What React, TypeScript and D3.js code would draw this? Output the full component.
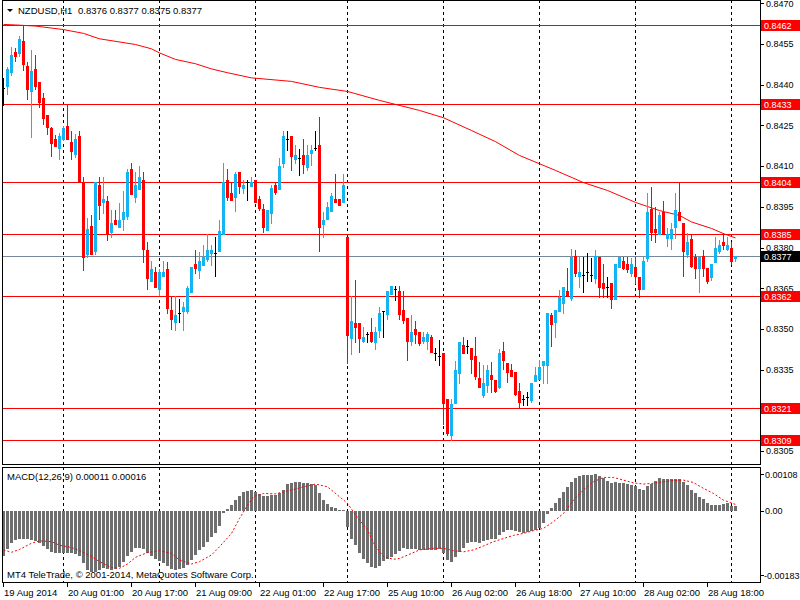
import React from 'react';
import * as d3 from 'd3';

const opens = [0.84388,0.84396,0.84448,0.84522,0.84516,0.84562,0.84470,0.84378,0.84458,0.84410,
0.84351,0.84288,0.84242,0.84200,0.84168,0.84199,0.84248,0.84189,0.84145,0.84211,
0.84040,0.83776,0.83879,0.83788,0.84030,0.83968,0.83971,0.83857,0.83901,0.83877,
0.83905,0.83917,0.84089,0.83987,0.84016,0.84049,0.83791,0.83678,0.83709,0.83647,
0.83696,0.83721,0.83570,0.83526,0.83558,0.83566,0.83566,0.83637,0.83739,0.83717,
0.83736,0.83759,0.83779,0.83779,0.83788,0.83849,0.84049,0.84000,0.83987,0.84078,
0.84018,0.84040,0.84028,0.84049,0.83978,0.83941,0.83865,0.83928,0.84030,0.84016,
0.84110,0.84199,0.84211,0.84126,0.84129,0.84141,0.84096,0.84147,0.84168,0.84178,
0.83887,0.83905,0.83936,0.83979,0.83979,0.83969,0.83838,0.83465,0.83521,0.83521,
0.83457,0.83481,0.83488,0.83451,0.83496,0.83567,0.83555,0.83628,0.83647,0.83640,
0.83570,0.83539,0.83457,0.83500,0.83490,0.83457,0.83457,0.83469,0.83410,0.83400,
0.83410,0.83241,0.83109,0.83228,0.83339,0.83441,0.83438,0.83429,0.83400,0.83318,
0.83256,0.83293,0.83330,0.83312,0.83287,0.83419,0.83376,0.83349,0.83342,0.83271,
0.83243,0.83248,0.83238,0.83309,0.83315,0.83367,0.83367,0.83551,0.83527,0.83566,
0.83597,0.83641,0.83615,0.83769,0.83695,0.83699,0.83711,0.83699,0.83689,0.83764,
0.83668,0.83656,0.83668,0.83610,0.83727,0.83751,0.83739,0.83707,0.83727,0.83692,
0.83647,0.83760,0.83941,0.83868,0.83849,0.83932,0.83836,0.83836,0.83877,0.83932,
0.83889,0.83776,0.83830,0.83764,0.83726,0.83769,0.83723,0.83690,0.83748,0.83787,
0.83821,0.83793,0.83797,0.8376];

const highs = [0.84425,0.84466,0.84538,0.84534,0.84580,0.84620,0.84483,0.84528,0.84510,0.84410,
0.84368,0.84288,0.84245,0.84215,0.84221,0.84248,0.84329,0.84229,0.84217,0.84229,
0.84061,0.83910,0.83920,0.84040,0.84061,0.84061,0.83990,0.83938,0.83938,0.83963,
0.84008,0.84089,0.84110,0.84078,0.84100,0.84078,0.83819,0.83750,0.83729,0.83721,
0.83750,0.83748,0.83622,0.83622,0.83609,0.83600,0.83658,0.83728,0.83791,0.83782,
0.83809,0.83849,0.83809,0.83838,0.83901,0.84110,0.84089,0.84037,0.84078,0.84078,
0.84049,0.84049,0.84061,0.84049,0.83990,0.83960,0.83938,0.84030,0.84043,0.84129,
0.84229,0.84229,0.84211,0.84178,0.84162,0.84200,0.84178,0.84178,0.84229,0.84282,
0.83932,0.83969,0.84000,0.84071,0.83979,0.84071,0.83838,0.83622,0.83680,0.83521,
0.83508,0.83490,0.83539,0.83508,0.83582,0.83567,0.83640,0.83658,0.83658,0.83658,
0.83640,0.83539,0.83551,0.83530,0.83490,0.83490,0.83490,0.83478,0.83429,0.83459,
0.83410,0.83241,0.83241,0.83382,0.83451,0.83469,0.83459,0.83429,0.83469,0.83377,
0.83367,0.83367,0.83379,0.83312,0.83427,0.83451,0.83376,0.83370,0.83342,0.83300,
0.83256,0.83269,0.83300,0.83361,0.83385,0.83383,0.83558,0.83558,0.83570,0.83643,
0.83656,0.83723,0.83793,0.83791,0.83764,0.83764,0.83781,0.83760,0.83791,0.83764,
0.83739,0.83690,0.83668,0.83738,0.83769,0.83764,0.83764,0.83760,0.83764,0.83692,
0.83764,0.84000,0.84024,0.83950,0.83932,0.83971,0.83871,0.83889,0.84000,0.84040,
0.83889,0.83852,0.83849,0.83776,0.83764,0.83791,0.83723,0.83739,0.83838,0.83828,
0.83852,0.83840,0.83821,0.8377];

const lows = [0.84325,0.84366,0.84436,0.84489,0.84506,0.84454,0.84347,0.84208,0.84384,0.84317,
0.84256,0.84217,0.84138,0.84175,0.84127,0.84196,0.84199,0.84126,0.84135,0.84046,
0.83717,0.83766,0.83776,0.83776,0.83905,0.83928,0.83828,0.83838,0.83887,0.83877,
0.83865,0.83905,0.83997,0.83969,0.84016,0.83748,0.83648,0.83678,0.83656,0.83625,
0.83696,0.83558,0.83499,0.83496,0.83526,0.83496,0.83558,0.83637,0.83705,0.83689,
0.83736,0.83750,0.83736,0.83695,0.83788,0.83849,0.83975,0.83975,0.83935,0.84000,
0.84000,0.83975,0.84028,0.83969,0.83938,0.83858,0.83865,0.83889,0.83997,0.84016,
0.84098,0.84159,0.84086,0.84110,0.84067,0.84076,0.84086,0.84104,0.84159,0.83788,
0.83838,0.83905,0.83936,0.83969,0.83957,0.83969,0.83373,0.83408,0.83451,0.83416,
0.83451,0.83451,0.83451,0.83426,0.83471,0.83469,0.83537,0.83628,0.83606,0.83537,
0.83521,0.83385,0.83441,0.83447,0.83441,0.83447,0.83426,0.83416,0.83385,0.83367,
0.83148,0.83109,0.83090,0.83228,0.83300,0.83410,0.83410,0.83339,0.83315,0.83287,
0.83248,0.83268,0.83269,0.83269,0.83281,0.83352,0.83303,0.83328,0.83256,0.83210,
0.83220,0.83220,0.83230,0.83309,0.83315,0.83300,0.83300,0.83438,0.83471,0.83566,
0.83558,0.83621,0.83607,0.83695,0.83656,0.83637,0.83677,0.83677,0.83668,0.83617,
0.83617,0.83617,0.83578,0.83610,0.83727,0.83720,0.83711,0.83695,0.83668,0.83617,
0.83647,0.83751,0.83828,0.83819,0.83849,0.83849,0.83806,0.83794,0.83836,0.83901,
0.83695,0.83764,0.83727,0.83689,0.83637,0.83695,0.83668,0.83680,0.83748,0.83779,
0.83794,0.83791,0.83738,0.8375];

const closes = [0.84388,0.84458,0.84510,0.84506,0.84568,0.84476,0.84384,0.84452,0.84396,0.84337,
0.84278,0.84245,0.84186,0.84175,0.84211,0.84242,0.84199,0.84157,0.84200,0.84046,
0.83766,0.83868,0.83776,0.84040,0.83957,0.83979,0.83849,0.83889,0.83887,0.83901,
0.83930,0.84077,0.83997,0.84030,0.84061,0.83794,0.83689,0.83721,0.83656,0.83709,
0.83709,0.83578,0.83538,0.83552,0.83558,0.83581,0.83652,0.83728,0.83726,0.83750,
0.83766,0.83791,0.83791,0.83779,0.83861,0.84040,0.83987,0.83975,0.84071,0.84028,
0.84032,0.84040,0.84043,0.83969,0.83947,0.83877,0.83938,0.84018,0.84006,0.84100,
0.84211,0.84199,0.84137,0.84141,0.84129,0.84108,0.84141,0.84159,0.84168,0.83877,
0.83901,0.83948,0.83990,0.83969,0.83957,0.84030,0.83478,0.83530,0.83508,0.83465,
0.83469,0.83481,0.83457,0.83490,0.83558,0.83567,0.83640,0.83658,0.83647,0.83555,
0.83533,0.83457,0.83490,0.83481,0.83447,0.83469,0.83481,0.83416,0.83410,0.83400,
0.83228,0.83118,0.83222,0.83349,0.83451,0.83410,0.83438,0.83388,0.83328,0.83287,
0.83300,0.83349,0.83315,0.83272,0.83412,0.83385,0.83340,0.83328,0.83259,0.83230,
0.83243,0.83248,0.83300,0.83330,0.83361,0.83383,0.83558,0.83518,0.83570,0.83619,
0.83653,0.83621,0.83764,0.83705,0.83710,0.83699,0.83711,0.83699,0.83769,0.83656,
0.83650,0.83656,0.83610,0.83738,0.83764,0.83726,0.83720,0.83738,0.83695,0.83647,
0.83750,0.83932,0.83858,0.83858,0.83920,0.83849,0.83850,0.83867,0.83938,0.83901,
0.83787,0.83821,0.83733,0.83726,0.83764,0.83723,0.83678,0.83739,0.83797,0.83809,
0.83809,0.83809,0.83750,0.8377];

const macdHist = [-0.00115,-0.00099,-0.00083,-0.00075,-0.00071,-0.00072,-0.00073,-0.00075,-0.00078,-0.00083,
-0.00090,-0.00099,-0.00106,-0.00107,-0.00107,-0.00107,-0.00107,-0.00109,-0.00111,-0.00116,
-0.00134,-0.00151,-0.00156,-0.00156,-0.00151,-0.00147,-0.00150,-0.00151,-0.00149,-0.00143,
-0.00130,-0.00116,-0.00105,-0.00096,-0.00094,-0.00099,-0.00107,-0.00116,-0.00123,-0.00128,
-0.00134,-0.00141,-0.00148,-0.00151,-0.00150,-0.00145,-0.00139,-0.00126,-0.00113,-0.00100,
-0.00092,-0.00079,-0.00068,-0.00056,-0.00039,-0.00005,0.00005,0.00014,0.00027,0.00037,
0.00047,0.00051,0.00054,0.00049,0.00043,0.00037,0.00037,0.00039,0.00041,0.00046,
0.00054,0.00068,0.00072,0.00073,0.00073,0.00071,0.00070,0.00068,0.00066,0.00044,
0.00027,0.00017,0.00010,0.00006,0.00002,0.00003,-0.00041,-0.00071,-0.00088,-0.00107,
-0.00122,-0.00134,-0.00143,-0.00145,-0.00141,-0.00128,-0.00124,-0.00118,-0.00110,-0.00103,
-0.00096,-0.00098,-0.00099,-0.00099,-0.00100,-0.00100,-0.00100,-0.00100,-0.00100,-0.00099,
-0.00107,-0.00126,-0.00130,-0.00117,-0.00105,-0.00094,-0.00083,-0.00079,-0.00079,-0.00082,
-0.00078,-0.00075,-0.00073,-0.00071,-0.00062,-0.00054,-0.00049,-0.00049,-0.00051,-0.00054,
-0.00056,-0.00054,-0.00051,-0.00049,-0.00045,-0.00031,-0.00009,0.00006,0.00020,0.00033,
0.00047,0.00061,0.00073,0.00083,0.00088,0.00090,0.00091,0.00092,0.00093,0.00088,
0.00083,0.00076,0.00072,0.00073,0.00071,0.00070,0.00068,0.00066,0.00063,0.00056,
0.00054,0.00063,0.00068,0.00075,0.00083,0.00081,0.00080,0.00080,0.00080,0.00080,
0.00074,0.00066,0.00053,0.00044,0.00036,0.00029,0.00019,0.00014,0.00015,0.00015,
0.00017,0.00019,0.00012,0.00011];

const sigIdx = [0,2,4,7,9,12,14,17,19,22,24,27,29,31,33,36,39,42,44,47,49,52,54,57,59,61,62.5,65,68,72,75,78,81,83,86,88,91,93,95,97.5,
99,102,104,107.5,110,112.5,115,117.5,120,122.5,125,127.5,130,132.5,135,137.5,140,142.5,145,147.5,150,152.5,155,157.5,160,162.5,165,167.5,170,172.5,175,177.5,180,183];
const sigVal = [-0.00100,-0.00106,-0.00099,-0.00083,-0.00077,-0.00079,-0.00088,-0.00094,-0.00102,-0.00117,-0.00130,-0.00145,-0.00147,-0.00136,-0.00119,-0.00107,-0.00102,-0.00109,-0.00126,-0.00136,-0.00130,-0.00113,-0.00092,-0.00058,-0.00020,0.00014,0.00036,0.00044,0.00043,0.00053,0.00061,0.00068,0.00061,0.00044,0.00019,-0.00011,-0.00049,-0.00092,-0.00117,-0.00124,
-0.00122,-0.00109,-0.00100,-0.00096,-0.00096,-0.00102,-0.00105,-0.00100,-0.00090,-0.00079,-0.00071,-0.00063,-0.00058,-0.00051,-0.00045,-0.00028,-0.00007,0.00027,0.00053,0.00074,0.00085,0.00085,0.00078,0.00071,0.00068,0.00070,0.00074,0.00077,0.00078,0.00072,0.00057,0.00044,0.00027,0.00016];

const maIdx = [0,3,8,15,20,24,33,37,39,43,48,52,56,62,72,79,86,94,104,110,117,123,129,138,145,151,158,164,169,172,177,180,183];
const maVal = [0.84624,0.84622,0.84618,0.84605,0.84591,0.84571,0.84550,0.84534,0.84519,0.84495,0.84479,0.84460,0.84446,0.84427,0.84414,0.84392,0.84377,0.84344,0.84307,0.84280,0.84233,0.84192,0.84141,0.84086,0.84041,0.84012,0.83968,0.83938,0.83920,0.83896,0.83872,0.83853,0.83837];

const levelLines = [0.8462, 0.8433, 0.8404, 0.8385, 0.8362, 0.8321, 0.8309];
const bidPrice = 0.8377;
const priceTicks = [0.8470, 0.8455, 0.8440, 0.8425, 0.8410, 0.8395, 0.8380, 0.8365, 0.8350, 0.8335, 0.8320, 0.8305];
const timeTickIdx = [0, 16, 32, 48, 64, 80, 96, 112, 128, 144, 160, 176];
const timeTickLabels = ['19 Aug 2014', '20 Aug 01:00', '20 Aug 17:00', '21 Aug 09:00', '22 Aug 01:00', '22 Aug 17:00', '25 Aug 10:00', '26 Aug 02:00', '26 Aug 18:00', '27 Aug 10:00', '28 Aug 02:00', '28 Aug 18:00'];
const daySepIdx = [15, 39, 63, 86, 110, 134, 158, 182];
const macdMax = 0.00108;
const macdMin = -0.00183;

const FONT = '"Liberation Sans", Arial, sans-serif';
const FS = 9.5;
const AFS = 9;
const BULL = '#14b4f2';
const BEAR = '#ff0000';

export default function App() {
  const L = 2, R = 760;
  const mainTop = 0, mainBottom = 464, macdTop = 467, macdBottom = 582;
  const x = d3.scaleLinear().domain([0, closes.length - 1]).range([3, 735]);
  const y = d3.scaleLinear().domain([0.8305, 0.8470]).range([451, 3.3]);
  const ym = d3.scaleLinear().domain([macdMin, macdMax]).range([582.4, 468.4]);
  const px = (i: number) => Math.round(x(i));
  const py = (p: number) => Math.round(y(p));

  const maPath = d3.line<number>().x((_, k) => x(maIdx[k]) + 0.5).y(d => y(d) + 0.5)(maVal) || '';
  const sigPath = d3.line<number>().x((_, k) => x(sigIdx[k]) + 0.5).y(d => ym(d))(sigVal) || '';
  const zeroY = Math.round(ym(0));

  return (
    <div style={{ position: 'absolute', left: 0, top: 0, width: 800, height: 600, background: '#fff' }}>
      <svg width={800} height={600} style={{ display: 'block' }} fontFamily={FONT}>
        <rect x={0} y={0} width={800} height={600} fill="#fff" />
        {daySepIdx.map(i => (
          <g key={'d' + i}>
            <line x1={px(i) + 0.5} x2={px(i) + 0.5} y1={mainTop} y2={mainBottom} stroke="#000" strokeDasharray="3,3" />
            <line x1={px(i) + 0.5} x2={px(i) + 0.5} y1={macdTop} y2={macdBottom} stroke="#000" strokeDasharray="3,3" />
          </g>
        ))}
        {levelLines.map(p => (
          <line key={'l' + p} x1={L} x2={R} y1={py(p) + 0.5} y2={py(p) + 0.5} stroke={BEAR} strokeWidth={1} />
        ))}
        <line x1={L} x2={R} y1={py(bidPrice) + 0.5} y2={py(bidPrice) + 0.5} stroke="#778899" />
        <path d={maPath} fill="none" stroke={BEAR} strokeWidth={1} />
        <g shapeRendering="crispEdges">
          {closes.map((c, i) => {
            const o = opens[i];
            const col = c > o ? BULL : c < o ? BEAR : '#000';
            const cx = px(i);
            const hy = py(highs[i]);
            const ly = py(lows[i]);
            const top = Math.min(py(o), py(c));
            const bot = Math.max(py(o), py(c));
            return (
              <g key={'c' + i}>
                <rect x={cx} y={hy} width={1} height={Math.max(1, ly - hy + 1)} fill={col} />
                <rect x={cx - 1} y={top} width={3} height={Math.max(1, bot - top + 1)} fill={col} />
              </g>
            );
          })}
        </g>
        <g shapeRendering="crispEdges">
          {macdHist.map((v, i) => {
            const vy = Math.round(ym(v));
            const t = Math.min(vy, zeroY);
            const h = Math.max(1, Math.abs(vy - zeroY));
            return <rect key={'h' + i} x={px(i) - 1} y={t} width={3} height={h} fill="#6e6e6e" />;
          })}
        </g>
        <path d={sigPath} fill="none" stroke={BEAR} strokeWidth={1} strokeDasharray="2,2" />
        <g shapeRendering="crispEdges" fill="none" stroke="#000">
          <rect x={L + 0.5} y={mainTop + 0.5} width={R - L} height={mainBottom - mainTop} />
          <rect x={L + 0.5} y={macdTop + 0.5} width={R - L} height={macdBottom - macdTop} />
        </g>
        {priceTicks.map(p => (
          <g key={'t' + p}>
            <line x1={R} x2={R + 4} y1={py(p) + 0.5} y2={py(p) + 0.5} stroke="#000" />
            <text x={766} y={y(p) + 3.3} fontSize={AFS} fill="#000">{p.toFixed(4)}</text>
          </g>
        ))}
        {levelLines.map(p => (
          <g key={'b' + p}>
            <rect x={761} y={py(p) - 5} width={39} height={11} fill={BEAR} />
            <text x={764} y={py(p) + 4} fontSize={AFS} fill="#fff">{p.toFixed(4)}</text>
          </g>
        ))}
        <rect x={761} y={py(bidPrice) - 5} width={39} height={11} fill="#000" />
        <text x={764} y={py(bidPrice) + 4} fontSize={AFS} fill="#fff">{bidPrice.toFixed(4)}</text>
        {[
          { v: macdMax, yy: ym(macdMax) + 6, t: macdMax.toFixed(5), tx: 765 },
          { v: 0, yy: ym(0), t: '0.00', tx: 765 },
          { v: macdMin, yy: ym(macdMin) - 7, t: macdMin.toFixed(5), tx: 764 },
        ].map(d => (
          <g key={'m' + d.t}>
            <line x1={R} x2={R + 4} y1={Math.round(d.yy) + 0.5} y2={Math.round(d.yy) + 0.5} stroke="#000" />
            <text x={d.tx} y={d.yy + 3.3} fontSize={AFS} fill="#000">{d.t}</text>
          </g>
        ))}
        {timeTickIdx.map((i, k) => (
          <g key={'x' + i}>
            <line x1={px(i) + 0.5} x2={px(i) + 0.5} y1={macdBottom} y2={macdBottom + 5} stroke="#000" />
            <text x={px(i) + 1} y={596} fontSize={FS} fill="#000">{timeTickLabels[k]}</text>
          </g>
        ))}
        <path d="M7,9 L13,9 L10,12 Z" fill="#000" />
        <text x={18} y={14} fontSize={FS} fill="#000">NZDUSD,H1</text>
        <text x={78} y={14} fontSize={FS} fill="#000">{`${opens[opens.length - 1].toFixed(4)} ${highs[highs.length - 1].toFixed(4)} ${lows[lows.length - 1].toFixed(4)} ${closes[closes.length - 1].toFixed(4)}`}</text>
        <text x={7} y={480} fontSize={FS} fill="#000">{`MACD(12,26,9) ${macdHist[macdHist.length - 1].toFixed(5)} ${sigVal[sigVal.length - 1].toFixed(5)}`}</text>
        <text x={7} y={578} fontSize={FS} fill="#000">MT4 TeleTrade, © 2001-2014, MetaQuotes Software Corp.</text>
      </svg>
    </div>
  );
}
